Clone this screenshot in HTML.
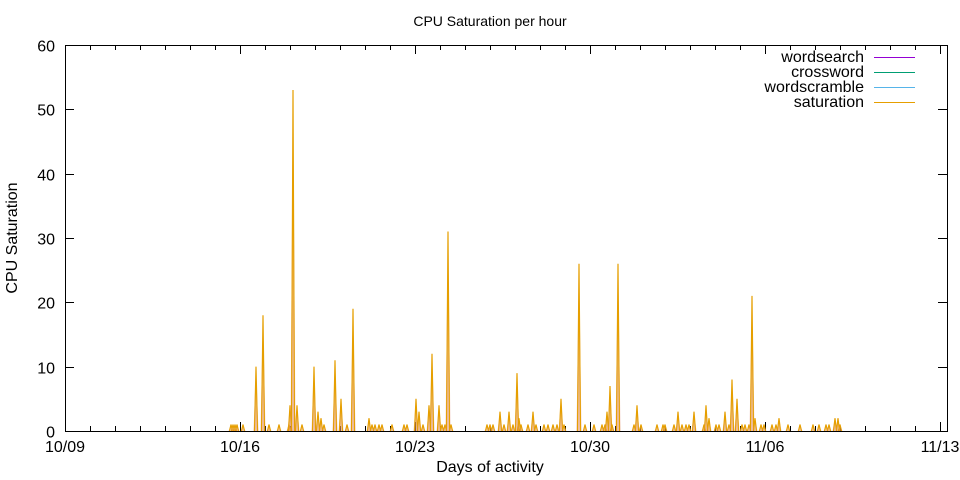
<!DOCTYPE html>
<html><head><meta charset="utf-8"><style>body{margin:0;background:#fff}svg{display:block;font-family:"Liberation Sans",Arial,sans-serif}</style></head>
<body>
<svg id="s" width="960" height="480" xmlns="http://www.w3.org/2000/svg">
<rect width="960" height="480" fill="#fff"/>
<text x="490" y="26" font-size="14" text-anchor="middle">CPU Saturation per hour</text>
<text x="490" y="472" font-size="16" text-anchor="middle">Days of activity</text>
<text transform="translate(17,238) rotate(-90)" font-size="16" text-anchor="middle">CPU Saturation</text>
<g id="ax" stroke="#000" stroke-width="1" fill="none"></g>
<g id="lab" font-size="16"></g>
<g id="dat"></g>
<rect x="65.5" y="45.5" width="882" height="386" fill="none" stroke="#000"/>
<g font-size="16" text-anchor="end">
<text x="864" y="62">wordsearch</text><text x="864" y="77">crossword</text><text x="864" y="92">wordscramble</text><text x="864" y="107">saturation</text>
</g>
<line x1="874" y1="57.5" x2="915" y2="57.5" stroke="#9400d3"/>
<line x1="874" y1="72.5" x2="915" y2="72.5" stroke="#009e73"/>
<line x1="874" y1="87.5" x2="915" y2="87.5" stroke="#56b4e9"/>
<line x1="874" y1="102.5" x2="915" y2="102.5" stroke="#e69f00"/>
</svg>
<script>
var NS="http://www.w3.org/2000/svg",s=document.getElementById('s');
function el(p,t,a,txt){var e=document.createElementNS(NS,t);for(var k in a)e.setAttribute(k,a[k]);if(txt)e.textContent=txt;document.getElementById(p).appendChild(e);}
var y0=431,py=386/60;
for(var v=0;v<=60;v+=10){var y=Math.round(y0-v*py)+.5;el('ax','line',{x1:65,y1:y,x2:74,y2:y});el('ax','line',{x1:947,y1:y,x2:938,y2:y});el('lab','text',{x:55,y:y+6,'text-anchor':'end'},String(v));}
var labs=['10/09','10/16','10/23','10/30','11/06','11/13'];
for(var d=0;d<=35;d++){var x=65+d*25+.5;if(x>947)break;var L=d%7==0?9:5;el('ax','line',{x1:x,y1:431,x2:x,y2:431-L});el('ax','line',{x1:x,y1:45,x2:x,y2:45+L});}
for(var i=0;i<6;i++){el('lab','text',{x:65+i*175,y:452,'text-anchor':'middle'},labs[i]);}
var sp=[[231,1],[233,1],[235,1],[237,1],[243,1],[256,10],[263,18],[269,1],[279,1],[289,1],[290,4],[293,53],[297,4],[302,1],[314,10],[318,3],[321,2],[324,1],[335,11],[341,5],[347,1],[353,19],[369,2],[372,1],[375,1],[379,1],[382,1],[392,1],[404,1],[407,1],[416,5],[419,3],[423,1],[429,4],[432,12],[439,4],[442,1],[445,1],[448,31],[451,1],[487,1],[490,1],[493,1],[500,3],[504,1],[509,3],[513,1],[517,9],[519,2],[521,1],[528,1],[533,3],[536,1],[544,1],[548,1],[553,1],[557,1],[561,5],[564,1],[579,26],[585,1],[594,1],[602,1],[605,1],[607,3],[610,7],[612,1],[618,26],[634,1],[637,4],[641,1],[657,1],[663,1],[665,1],[674,1],[678,3],[682,1],[686,1],[689,1],[694,3],[704,1],[706,4],[709,2],[716,1],[719,1],[725,3],[729,1],[732,8],[737,5],[742,1],[745,1],[749,1],[752,21],[755,2],[761,1],[764,1],[772,1],[776,1],[779,2],[788,1],[800,1],[813,1],[819,1],[826,1],[829,1],[835,2],[838,2],[840,1]];
sp.forEach(function(p){var x=p[0],y=y0-p[1]*py;
el('dat','polygon',{points:(x-2.5)+','+y0+' '+x+','+y+' '+(x+2.5)+','+y0,fill:'#e09080','fill-opacity':p[1]>1?0.55:0.5});
el('dat','polyline',{points:(x-1.5)+','+y0+' '+x+','+y+' '+(x+1.5)+','+y0,fill:'none',stroke:'#e69f00','stroke-width':1.2});});
</script>
</body></html>
